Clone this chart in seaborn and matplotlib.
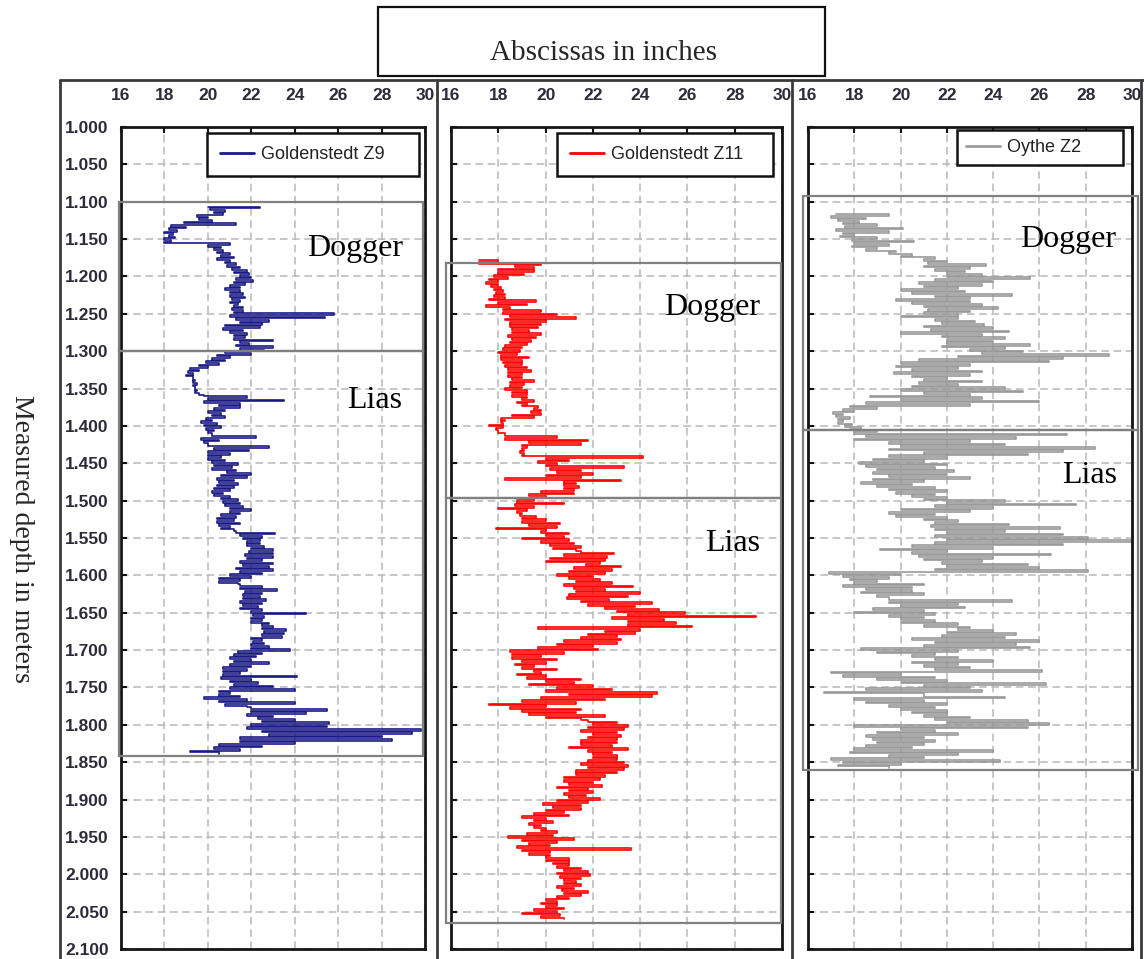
import numpy as np
import matplotlib
matplotlib.use("Agg")
import matplotlib.pyplot as plt
import seaborn as sns
from matplotlib.patches import Rectangle
from matplotlib.lines import Line2D

sns.set_style("white")
plt.rcParams["font.family"] = ["Liberation Sans", "DejaVu Sans"]

# ---------------- data ----------------
x_ticks = [16, 18, 20, 22, 24, 26, 28, 30]
x_tick_labels = ["16", "18", "20", "22", "24", "26", "28", "30"]
depth_ticks = [1.00, 1.05, 1.10, 1.15, 1.20, 1.25, 1.30, 1.35, 1.40, 1.45, 1.50, 1.55,
               1.60, 1.65, 1.70, 1.75, 1.80, 1.85, 1.90, 1.95, 2.00, 2.05, 2.10]
depth_tick_labels = ["%.3f" % d for d in depth_ticks]

series_names = ["Goldenstedt Z9", "Goldenstedt Z11", "Oythe Z2"]
formations = ["Dogger", "Lias"]

# Goldenstedt Z9 : log values (inches), regularly sampled from top to base depth
z9_top, z9_base = 1.1067, 1.839
z9_values = [
    20.0, 22.4, 20.1, 20.8, 20.3, 20.7, 19.5, 20.0, 19.6, 20.2, 18.9, 21.3, 18.3, 19.0,
    18.2, 18.6, 18.0, 18.4, 18.2, 18.5, 18.0, 18.3, 18.0, 21.0, 20.0, 20.6, 20.3, 20.7,
    20.4, 21.0, 20.6, 21.2, 20.4, 21.0, 20.8, 21.3, 20.9, 21.5, 21.1, 21.8, 21.2, 21.9,
    21.5, 22.0, 21.3, 22.1, 21.2, 21.7, 21.0, 21.5, 20.8, 21.5, 21.0, 21.6, 21.0, 21.7,
    21.1, 21.5, 21.0, 21.4, 21.2, 21.6, 21.1, 21.6, 21.2, 25.8, 21.0, 25.4, 21.3, 22.8,
    21.5, 22.5, 20.8, 22.4, 20.7, 21.6, 21.0, 21.8, 21.2, 21.7, 21.2, 23.0, 21.5, 21.9,
    21.3, 23.0, 21.5, 22.6, 20.8, 22.0, 20.4, 21.0, 20.2, 20.8, 19.9, 20.5, 19.6, 20.0,
    19.2, 19.6, 19.1, 19.3, 19.0, 19.3,
    19.3, 19.4, 19.3, 19.5, 19.3, 19.4, 19.4, 19.5, 19.4, 19.6, 19.8, 21.8, 20.0, 23.5,
    19.8, 21.5, 20.5, 21.5, 20.3, 20.8, 20.0, 20.6, 20.2, 20.8, 19.9, 20.2, 19.7, 20.4,
    19.8, 20.6, 19.9, 20.3, 20.0, 20.2, 20.2, 22.2, 19.7, 20.5, 19.8, 20.0, 20.0, 22.8,
    20.3, 21.9, 20.0, 21.0, 20.0, 20.6, 20.0, 20.8, 20.2, 21.4, 20.3, 21.1, 20.2, 21.3,
    20.9, 22.0, 20.6, 21.8, 20.4, 21.2, 20.5, 21.4, 20.4, 21.2, 20.3, 21.0, 20.2, 20.7,
    20.3, 21.0, 20.6, 21.4, 20.7, 21.5, 20.8, 21.6, 21.0, 22.0, 21.0, 21.5, 20.6, 21.3,
    20.4, 21.2, 20.4, 21.5, 20.5, 21.0, 20.6, 21.2, 21.3, 23.1, 21.5, 22.5, 21.6, 22.4,
    21.8, 22.4, 21.8, 22.6, 22.0, 23.0, 21.9, 23.0, 21.7, 23.0, 21.8, 22.5, 21.5, 23.0,
    21.6, 22.8, 21.3, 23.0, 21.5, 22.5, 21.0, 22.0, 20.5, 21.5, 20.5, 21.4, 21.5, 22.5,
    21.5, 23.2, 21.7, 22.5, 21.6, 22.4, 21.6, 22.7, 21.5, 22.5, 21.6, 22.3, 21.5, 22.5,
    22.0, 24.5, 22.1, 22.6, 22.0, 22.5, 22.0, 22.8, 22.5, 23.0, 22.5, 23.6, 22.6, 23.5,
    22.5, 23.4, 22.0, 22.5, 22.1, 22.6, 22.0, 22.8, 22.0, 23.8, 21.4, 22.5, 21.2, 22.2,
    21.0, 22.0, 21.2, 22.8, 21.0, 22.0, 20.7, 21.8, 20.7, 21.5, 20.7, 24.1, 20.6, 22.0,
    21.0, 22.3, 21.2, 23.0, 21.0, 24.0, 20.5, 21.0, 20.5, 21.5, 19.8, 21.8, 20.5, 24.0,
    20.8, 21.8, 22.0, 25.5, 22.0, 24.5, 21.8, 23.0, 22.3, 24.0, 22.5, 25.6, 22.0, 25.5,
    21.8, 29.8, 22.5, 29.4, 22.8, 28.0, 21.5, 28.5, 21.5, 24.0, 20.5, 22.5, 20.3, 21.5,
    19.2, 20.5,
]

# Goldenstedt Z11
z11_top, z11_base = 1.1786, 2.0602
z11_values = [
    17.2, 18.0, 17.2, 19.8, 18.7, 19.5, 18.0, 19.5, 18.0, 19.1, 17.8, 18.4, 17.6, 18.0,
    17.5, 18.0, 17.7, 18.1, 17.8, 18.2, 17.9, 18.3, 17.8, 18.3, 17.6, 19.6, 18.0, 19.2,
    17.5, 18.5, 18.2, 19.8, 18.2, 20.5, 18.5, 21.3, 18.3, 20.0, 18.5, 19.8, 18.5, 19.7,
    18.6, 19.3, 18.6, 19.8, 18.4, 19.6, 18.6, 19.4, 18.5, 19.2, 18.3, 19.0, 18.2, 18.9,
    18.0, 18.8, 18.1, 19.3, 18.1, 19.0, 18.2, 19.0, 18.3, 19.2, 18.4, 19.4, 18.4, 19.0,
    18.4, 19.0, 18.6, 19.5, 18.5, 19.1, 18.5, 19.0, 18.3, 19.2, 18.6, 19.2, 18.6, 19.2,
    19.0, 19.5, 18.8, 19.2, 19.0, 19.7, 19.5, 19.8, 19.4, 19.8, 18.6, 19.5, 18.1, 18.3,
    18.1, 18.2, 17.6, 18.2, 17.9, 18.0, 18.0, 18.3, 18.3, 20.5, 18.3, 21.8, 19.3, 21.5,
    19.0, 19.2, 19.0, 19.1, 18.9, 19.1, 19.0, 24.1, 20.0, 21.0, 19.7, 20.5, 20.0, 23.3,
    20.2, 21.5, 20.5, 22.0, 20.0, 21.5, 18.3, 23.2, 20.8, 21.3, 20.8, 21.4, 20.8, 21.2,
    19.8, 21.2, 19.3, 20.0, 18.8, 19.5,
    18.8, 20.8, 18.7, 19.5, 18.0, 19.2, 18.8, 19.0, 18.9, 19.6, 19.0, 20.0, 19.0, 20.6,
    19.3, 20.5, 17.9, 20.0, 19.8, 21.0, 20.0, 20.8, 19.0, 21.0, 19.8, 21.2, 20.2, 21.5,
    20.3, 21.3, 21.5, 22.9, 20.8, 22.6, 20.2, 22.5, 20.0, 22.3, 21.7, 23.2, 21.2, 22.8,
    21.0, 22.5, 20.5, 22.0, 21.0, 22.3, 21.3, 22.8, 20.8, 23.7, 21.2, 22.5, 21.3, 24.0,
    21.0, 23.5, 20.9, 22.7, 21.5, 24.5, 21.8, 23.8, 22.5, 24.8, 23.0, 25.9, 23.5, 28.9,
    22.8, 25.0, 23.5, 25.5, 23.5, 26.2, 19.7, 24.0, 22.5, 23.8, 21.8, 23.0, 21.5, 23.2,
    20.8, 23.0, 20.5, 22.0, 19.7, 22.2, 18.5, 20.8, 18.6, 19.8, 18.6, 20.5, 19.0, 20.0,
    18.7, 19.5, 19.0, 20.5, 19.5, 19.8, 18.8, 20.0, 19.2, 21.5, 20.0, 21.2, 19.3, 22.0,
    20.5, 22.8, 20.0, 24.7, 21.0, 24.5, 19.8, 22.5, 19.0, 21.3, 17.6, 20.0, 18.5, 21.5,
    19.0, 21.3, 19.3, 22.5, 20.0, 21.5, 21.8, 23.0, 22.0, 23.5, 21.8, 23.3, 21.5, 23.0,
    22.0, 23.2, 21.8, 23.0, 21.5, 23.0, 21.5, 22.8, 21.0, 23.5, 21.8, 22.8, 22.0, 23.0,
    22.0, 23.0, 21.8, 23.3, 21.5, 23.5, 21.8, 23.3, 21.3, 23.0, 21.3, 22.5, 20.8, 22.3,
    20.8, 22.0, 21.0, 22.4, 20.5, 21.8, 21.0, 22.0, 20.8, 21.7, 21.0, 22.3, 20.5, 21.8,
    19.9, 21.5, 20.3, 21.5, 20.0, 20.8, 19.5, 21.0, 19.0, 20.0, 19.5, 20.3, 19.3, 19.8,
    19.5, 20.0, 19.8, 20.5, 19.2, 20.3, 18.4, 21.2, 19.0, 20.5, 19.3, 20.2, 18.8, 23.6,
    19.0, 20.2, 19.3, 20.2, 20.0, 21.0, 20.0, 21.0, 20.3, 21.0, 20.5, 21.5, 20.8, 21.8,
    20.5, 21.9, 20.6, 21.5, 20.8, 21.3, 20.8, 21.5, 20.5, 21.2, 20.7, 21.8, 20.8, 21.5,
    20.5, 21.0, 20.0, 20.5, 19.8, 20.5, 20.0, 20.8, 19.5, 20.5, 19.0, 20.6, 19.8, 20.8,
]

# Oythe Z2
oy_top, oy_base = 1.1167, 1.858
oy_values = [
    17.2, 19.5, 17.0, 18.5, 17.3, 18.2, 17.5, 19.0, 17.6, 20.1, 17.2, 19.5, 17.5, 18.0,
    17.4, 19.0, 17.9, 20.6, 18.0, 19.5, 17.9, 19.0, 18.5, 19.8, 19.5, 20.5, 20.0, 21.5,
    21.0, 22.0, 21.2, 23.7, 21.0, 23.0, 21.5, 22.8, 22.0, 23.5, 22.0, 25.6, 21.5, 24.0,
    20.8, 23.5, 21.0, 22.5, 20.0, 22.8, 20.5, 24.8, 21.5, 23.0, 19.8, 23.0, 20.5, 23.5,
    21.0, 24.2, 21.2, 23.0, 21.0, 22.5, 20.0, 22.5, 21.5, 23.2, 21.8, 23.6, 21.0, 24.0,
    21.3, 24.7, 20.0, 23.5, 21.8, 24.5, 22.0, 24.0, 22.0, 25.6, 21.8, 24.5, 23.0, 25.3,
    23.5, 29.0, 22.5, 27.0, 20.8, 26.4, 20.0, 23.0, 19.8, 22.5, 20.5, 23.5, 19.7, 23.0,
    20.5, 22.0, 21.0, 23.5, 20.8, 22.5, 20.5, 24.5, 20.0, 25.3, 21.0, 23.0, 18.7, 23.5,
    20.0, 26.0, 18.5, 23.0, 17.8, 19.0, 17.5, 18.0, 17.1, 17.5, 17.2, 17.8, 17.3, 17.5,
    17.3, 17.9, 17.6, 18.3, 17.8, 19.0, 18.0, 27.2, 18.5, 25.0, 18.0, 23.0, 19.5, 24.5,
    20.0, 28.4, 19.5, 27.0, 21.0, 25.5, 19.5, 22.0, 18.8, 21.0,
    18.2, 22.0, 18.5, 21.5, 19.0, 22.3, 18.8, 22.0, 19.5, 23.0, 18.8, 21.0, 18.3, 20.5,
    19.0, 21.5, 19.5, 22.0, 19.8, 21.5, 20.5, 22.0, 21.0, 24.5, 22.0, 27.6, 21.5, 24.0,
    20.0, 23.0, 19.5, 21.5, 19.8, 22.0, 21.0, 22.5, 21.5, 24.7, 21.3, 26.9, 21.5, 24.5,
    22.0, 27.0, 21.5, 28.1, 22.0, 30.5, 21.5, 27.0, 20.5, 24.0, 19.1, 22.0, 20.5, 26.5,
    20.8, 24.0, 21.0, 23.5, 21.8, 25.5, 22.0, 26.0, 21.5, 28.1, 16.9, 20.0, 17.5, 19.5,
    17.8, 19.0, 18.0, 21.0, 17.5, 20.5, 18.5, 20.5, 18.3, 21.0, 19.0, 19.5, 19.5, 24.8,
    19.5, 22.5, 20.0, 22.8, 18.8, 21.0, 18.0, 21.5, 19.5, 21.0, 20.0, 21.5, 20.0, 22.5,
    21.0, 23.0, 22.5, 24.0, 22.0, 25.0, 21.8, 24.5, 20.5, 26.0, 21.5, 25.0, 21.0, 25.6,
    18.3, 22.5, 19.0, 21.5, 20.5, 22.5, 21.5, 24.0, 20.5, 22.5, 21.0, 23.0, 21.5, 26.1,
    17.0, 20.0, 17.5, 21.5, 19.0, 22.0, 20.0, 26.3, 21.0, 23.0, 18.5, 23.5, 16.7, 21.0,
    21.0, 24.5, 18.0, 21.0, 18.5, 22.0, 19.5, 21.5, 20.0, 22.0, 20.5, 22.0, 21.0, 23.0,
    21.5, 25.5, 22.0, 26.4, 18.0, 25.5, 20.0, 21.5, 19.0, 22.5, 18.5, 21.0, 18.8, 21.5,
    19.0, 21.0, 18.5, 20.5, 18.0, 24.0, 17.8, 22.5, 19.5, 21.0, 17.0, 24.3, 17.5, 20.0,
    17.3, 19.5,
]

# formation boundaries (depth of Dogger top, Dogger/Lias limit, Lias base) and box x extents
z9_formation_depths = [1.100, 1.300, 1.842]
z11_formation_depths = [1.182, 1.496, 2.065]
oy_formation_depths = [1.092, 1.406, 1.861]
z9_box_x = [15.9, 29.9]
z11_box_x = [15.79, 29.96]
oy_box_x = [15.78, 30.26]
# formation label positions (value, depth)
z9_label_pos = [(26.78, 1.162), (27.7, 1.366)]
z11_label_pos = [(27.04, 1.241), (27.93, 1.557)]
oy_label_pos = [(27.24, 1.151), (28.19, 1.466)]

series_colors = ["#1a1a85", "#ff0000", "#999999"]

# ---------------- figure ----------------
W, H = 1144, 959
fig = plt.figure(figsize=(W / 100, H / 100), dpi=100)
fig.patch.set_facecolor("white")

# axes rectangles in pixels: left, right
ax_px = [(121, 425), (451, 782), (808, 1132)]
ax_top_px, ax_bot_px = 127, 949
# legend boxes (x0, y0, width, height) in axes fraction, expanded horizontally
legend_bbox = [(0.283, 0.90, 0.697, 0.0927), (0.320, 0.90, 0.653, 0.0927),
               (0.460, 0.90, 0.512, 0.0964)]
legend_pad = [0.72, 0.72, 0.5]

panels = [
    (z9_values, z9_top, z9_base, z9_formation_depths, z9_box_x, z9_label_pos),
    (z11_values, z11_top, z11_base, z11_formation_depths, z11_box_x, z11_label_pos),
    (oy_values, oy_top, oy_base, oy_formation_depths, oy_box_x, oy_label_pos),
]

tick_color = "#2d2b3a"
serif = ["Liberation Serif", "DejaVu Serif"]

for i, (vals, top, base, fdepths, bx, lpos) in enumerate(panels):
    l, r = ax_px[i]
    ax = fig.add_axes([l / W, 1 - ax_bot_px / H, (r - l) / W, (ax_bot_px - ax_top_px) / H])
    depth = np.linspace(top, base, len(vals))
    sns.lineplot(x=np.array(vals), y=depth, ax=ax, color=series_colors[i], lw=1.2,
                 sort=False, orient="y", estimator=None, drawstyle="steps-post",
                 legend=False)
    ax.set_xlim(16, 30)
    ax.set_ylim(2.1, 1.0)
    ax.set_xticks(x_ticks)
    ax.set_xticklabels(x_tick_labels, fontweight="bold", fontsize=12.5, color=tick_color)
    ax.set_yticks(depth_ticks)
    ax.set_yticklabels(depth_tick_labels, fontweight="bold", fontsize=12.5, color=tick_color)
    ax.xaxis.tick_top()
    ax.tick_params(axis="x", top=True, bottom=False, direction="in", length=4, width=1.5,
                   pad=17, colors="#111111", labelcolor=tick_color)
    ax.tick_params(axis="y", left=True, right=False, direction="in", length=4, width=1.5,
                   pad=9, colors="#111111", labelcolor=tick_color, labelleft=(i == 0))
    ax.set_axisbelow(True)
    ax.grid(True, color="#b8b8b8", linestyle=(0, (5, 3)), lw=1.1)
    for s in ax.spines.values():
        s.set_color("#151515")
        s.set_linewidth(2)
    ax.set_xlabel("")
    ax.set_ylabel("")

    # formation boxes
    for k in range(2):
        ax.add_patch(Rectangle((bx[0], fdepths[k]), bx[1] - bx[0], fdepths[k + 1] - fdepths[k],
                               fill=False, ec="#808080", lw=1.6, clip_on=False, zorder=5))
        ax.text(lpos[k][0], lpos[k][1], formations[k], ha="center", va="center",
                fontsize=23, family=serif, color="black", zorder=6)

    handle = Line2D([], [], color=series_colors[i], lw=2)
    leg = ax.legend([handle], [series_names[i]], loc="upper left", mode="expand",
                    bbox_to_anchor=legend_bbox[i], frameon=True, fancybox=False,
                    edgecolor="#111111", framealpha=1, fontsize=13,
                    borderpad=legend_pad[i], handlelength=1.9, handletextpad=0.35,
                    borderaxespad=0)
    leg.get_frame().set_linewidth(1.8)
    leg.set_zorder(7)
    for t in leg.get_texts():
        t.set_color("#222222")

# outer frame lines
frame_kw = dict(color="#3a3a3a", lw=2, transform=fig.transFigure)
fig.add_artist(Line2D([60 / W, 1.0], [1 - 80 / H, 1 - 80 / H], **frame_kw))
for xp in (60, 437, 792, 1141):
    fig.add_artist(Line2D([xp / W, xp / W], [1 - 80 / H, 0.0], **frame_kw))

# top title box
fig.add_artist(Rectangle((378 / W, 1 - 76 / H), (825 - 378) / W, (76 - 7) / H, fill=False,
                         ec="#111111", lw=1.6, transform=fig.transFigure))
fig.text(603 / W, 1 - 53 / H, "Abscissas in inches", ha="center", va="center",
         fontsize=21, family=serif)

# y label
fig.text(21 / W, 1 - 539 / H, "Measured depth in meters", ha="center", va="center",
         rotation=-90, fontsize=20, family=serif)

fig.savefig("out.png", dpi=100, facecolor="white")
